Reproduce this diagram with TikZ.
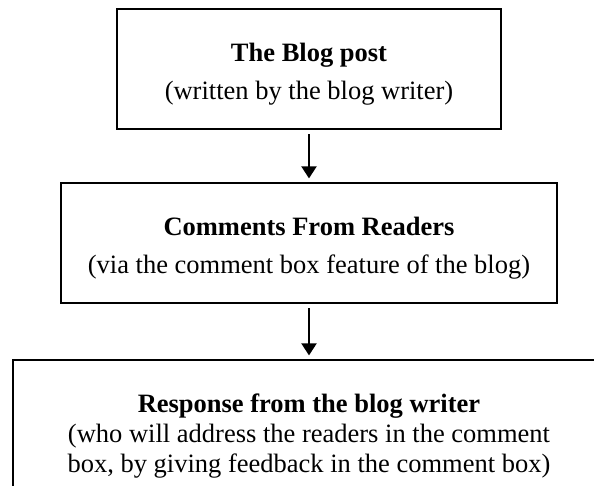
\documentclass[tikz,border=0pt]{standalone}
\usepackage{fontspec}
\setmainfont{Liberation Serif}
\usetikzlibrary{arrows.meta}

\tikzset{
  box/.style={rectangle, draw, line width=1pt, inner sep=0pt, align=center,
    font=\fontsize{13.25}{19}\selectfont},
  link/.style={-{Triangle[width=7.5pt, length=6pt]}, line width=1pt,
    shorten <=2.2pt, shorten >=1.8pt}
}

\begin{document}
\begin{tikzpicture}[x=0.5pt, y=0.5pt]
  \useasboundingbox (0,0) rectangle (594,486);
  \clip (0,0) rectangle (594,486);

  % Nodes
  \node[box, minimum width=192pt, minimum height=60pt] (post) at (309,417)
    {\rule{0pt}{13.9pt}\textbf{The Blog post}\\(written by the blog writer)};
  \node[box, minimum width=248pt, minimum height=60pt] (comments) at (309,243)
    {\rule{0pt}{13.9pt}\textbf{Comments From Readers}\\(via the comment box feature of the blog)};
  \node[box, minimum width=296pt, minimum height=75pt,
    font=\fontsize{13.25}{15}\selectfont] (response) at (309,51)
    {\rule{0pt}{9.9pt}\textbf{Response from the blog writer}\\(who will address the readers in the comment\\box, by giving feedback in the comment box)};

  % Path
  \draw[link] (post) -- (comments);
  \draw[link] (comments) -- (response);
\end{tikzpicture}
\end{document}
